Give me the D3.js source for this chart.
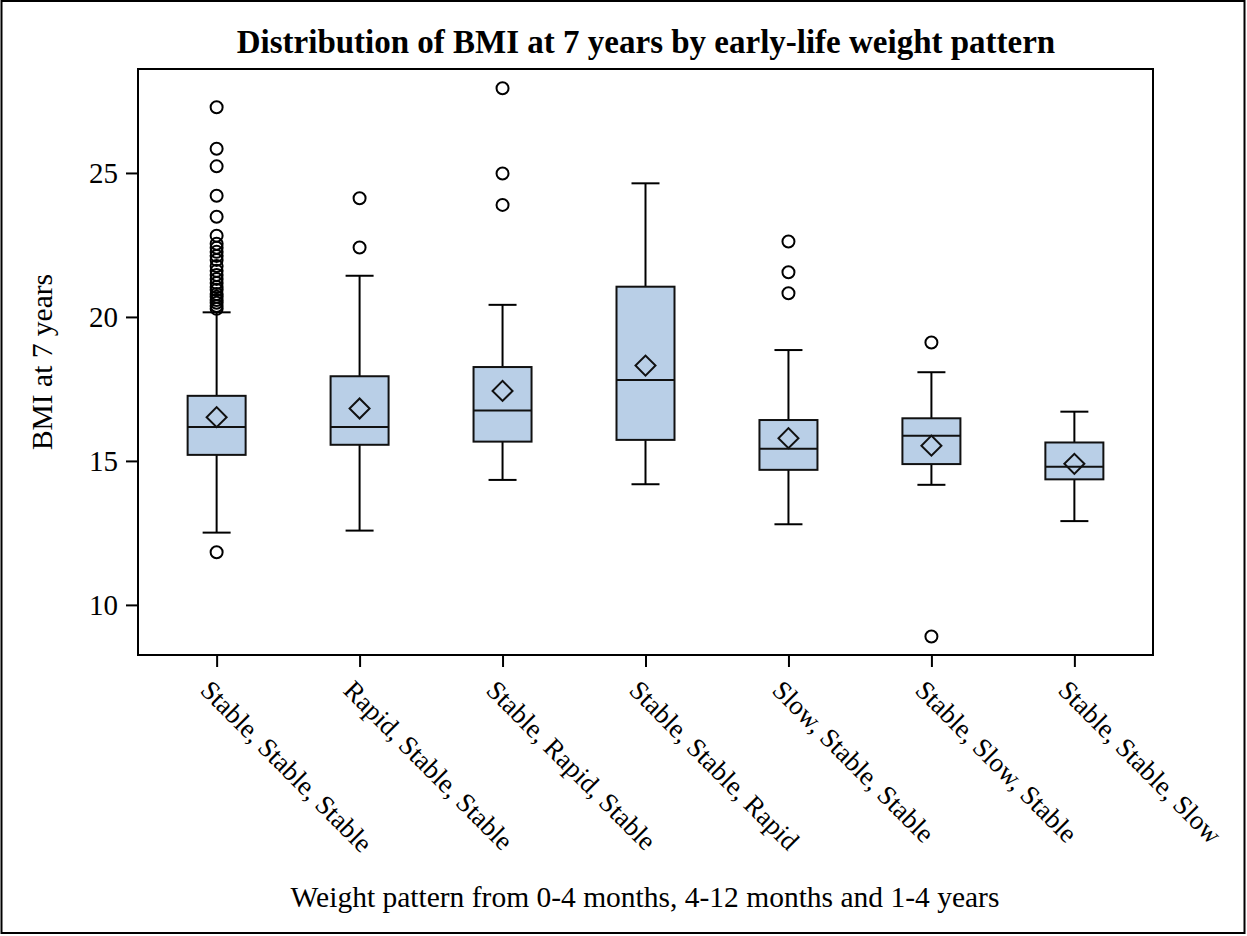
<!DOCTYPE html>
<html>
<head>
<meta charset="utf-8">
<script src="https://cdn.jsdelivr.net/npm/d3@7"></script>
<style>
  body { margin: 0; background: #fff; }
  text { font-family: "Liberation Serif", "Times New Roman", serif; fill: #000; }
</style>
</head>
<body>
<div id="chart"></div>
<script>
// categories and box statistics
const categories = [
    "Stable, Stable, Stable",
    "Rapid, Stable, Stable",
    "Stable, Rapid, Stable",
    "Stable, Stable, Rapid",
    "Slow, Stable, Stable",
    "Stable, Slow, Stable",
    "Stable, Stable, Slow"
];
const whiskerLow  = [12.51, 12.58, 14.34, 14.19, 12.80, 14.17, 12.91];
const q1          = [15.21, 15.56, 15.67, 15.73, 14.69, 14.89, 14.36];
const median      = [16.18, 16.18, 16.75, 17.81, 15.42, 15.87, 14.80];
const q3          = [17.26, 17.94, 18.26, 21.05, 16.42, 16.48, 15.64];
const whiskerHigh = [20.16, 21.43, 20.42, 24.64, 18.85, 18.08, 16.71];
const means       = [16.52, 16.82, 17.43, 18.31, 15.79, 15.53, 14.90];
const outliers = [
    [11.83, 20.28, 20.38, 20.49, 20.59, 20.70, 20.80, 20.94, 21.04, 21.18, 21.32,
     21.46, 21.60, 21.77, 21.98, 22.12, 22.26, 22.40, 22.54, 22.82, 23.48, 24.21,
     25.23, 25.84, 27.28],
    [22.41, 24.12],
    [23.89, 24.98, 27.94],
    [],
    [20.82, 21.55, 22.62],
    [8.90, 19.11],
    []
];
const yTicks = [10, 15, 20, 25];

const width = 1247;
const height = 936;
const plot = { left: 138, top: 69, right: 1153, bottom: 655 };
const boxWidth = 58;
const capWidth = 28;

const svg = d3.select("#chart")
    .append("svg")
    .attr("width", width)
    .attr("height", height);

// outer frame
svg.append("rect")
    .attr("x", 1.5).attr("y", 1)
    .attr("width", width - 4).attr("height", height - 4)
    .attr("fill", "none")
    .attr("stroke", "#000")
    .attr("stroke-width", 2);

const x = d3.scalePoint()
    .domain(categories)
    .range([plot.left, plot.right])
    .padding(0.55);

const y = d3.scaleLinear()
    .domain([8.26, 28.61])
    .range([plot.bottom, plot.top]);

// y axis
svg.append("g")
    .attr("transform", `translate(${plot.left},0)`)
    .call(d3.axisLeft(y).tickValues(yTicks).tickSize(12).tickPadding(8))
    .call(g => g.select(".domain").remove())
    .call(g => g.selectAll(".tick line").attr("stroke", "#000").attr("stroke-width", 2))
    .call(g => g.selectAll(".tick text")
        .attr("font-size", "29px")
        .attr("font-family", "Liberation Serif"));

// x axis
svg.append("g")
    .attr("transform", `translate(0,${plot.bottom})`)
    .call(d3.axisBottom(x).tickSize(12).tickFormat(""))
    .call(g => g.select(".domain").remove())
    .call(g => g.selectAll(".tick line").attr("stroke", "#000").attr("stroke-width", 2));

// rotated category labels
svg.append("g")
    .selectAll("text")
    .data(categories)
    .join("text")
    .attr("transform", d => `translate(${x(d) - 11},${plot.bottom + 30}) rotate(45)`)
    .attr("dy", "0.35em")
    .attr("font-size", "27px")
    .text(d => d);

// boxes
const groups = svg.append("g")
    .selectAll("g")
    .data(categories)
    .join("g");

// whiskers
groups.append("line")
    .attr("x1", d => x(d)).attr("x2", d => x(d))
    .attr("y1", (d, i) => y(whiskerHigh[i]))
    .attr("y2", (d, i) => y(q3[i]))
    .attr("stroke", "#000").attr("stroke-width", 2);
groups.append("line")
    .attr("x1", d => x(d)).attr("x2", d => x(d))
    .attr("y1", (d, i) => y(q1[i]))
    .attr("y2", (d, i) => y(whiskerLow[i]))
    .attr("stroke", "#000").attr("stroke-width", 2);
// caps
groups.append("line")
    .attr("x1", d => x(d) - capWidth / 2).attr("x2", d => x(d) + capWidth / 2)
    .attr("y1", (d, i) => y(whiskerHigh[i]))
    .attr("y2", (d, i) => y(whiskerHigh[i]))
    .attr("stroke", "#000").attr("stroke-width", 2);
groups.append("line")
    .attr("x1", d => x(d) - capWidth / 2).attr("x2", d => x(d) + capWidth / 2)
    .attr("y1", (d, i) => y(whiskerLow[i]))
    .attr("y2", (d, i) => y(whiskerLow[i]))
    .attr("stroke", "#000").attr("stroke-width", 2);

groups.append("rect")
    .attr("x", d => x(d) - boxWidth / 2)
    .attr("width", boxWidth)
    .attr("y", (d, i) => y(q3[i]))
    .attr("height", (d, i) => y(q1[i]) - y(q3[i]))
    .attr("fill", "#b9cfe7")
    .attr("stroke", "#111")
    .attr("stroke-width", 2);

// median line
groups.append("line")
    .attr("x1", d => x(d) - boxWidth / 2).attr("x2", d => x(d) + boxWidth / 2)
    .attr("y1", (d, i) => y(median[i]))
    .attr("y2", (d, i) => y(median[i]))
    .attr("stroke", "#111").attr("stroke-width", 2);

// mean diamond
groups.append("path")
    .attr("d", d3.symbol(d3.symbolSquare, 200))
    .attr("transform", (d, i) => `translate(${x(d)},${y(means[i])}) rotate(45)`)
    .attr("fill", "none")
    .attr("stroke", "#111")
    .attr("stroke-width", 2);

// outliers
groups.selectAll("circle")
    .data((d, i) => outliers[i].map(v => ({ cat: d, v: v })))
    .join("circle")
    .attr("cx", d => x(d.cat))
    .attr("cy", d => y(d.v))
    .attr("r", 6)
    .attr("fill", "none")
    .attr("stroke", "#000")
    .attr("stroke-width", 2);

// plot frame
svg.append("rect")
    .attr("x", plot.left).attr("y", plot.top)
    .attr("width", plot.right - plot.left)
    .attr("height", plot.bottom - plot.top)
    .attr("fill", "none")
    .attr("stroke", "#000")
    .attr("stroke-width", 2);

// titles
svg.append("text")
    .attr("x", 646).attr("y", 53)
    .attr("text-anchor", "middle")
    .attr("font-size", "33px")
    .attr("font-weight", "bold")
    .text("Distribution of BMI at 7 years by early-life weight pattern");

svg.append("text")
    .attr("x", 645).attr("y", 907)
    .attr("text-anchor", "middle")
    .attr("font-size", "29.5px")
    .text("Weight pattern from 0-4 months, 4-12 months and 1-4 years");

svg.append("text")
    .attr("transform", "translate(52,362) rotate(-90)")
    .attr("text-anchor", "middle")
    .attr("font-size", "29.5px")
    .text("BMI at 7 years");
</script>
</body>
</html>
